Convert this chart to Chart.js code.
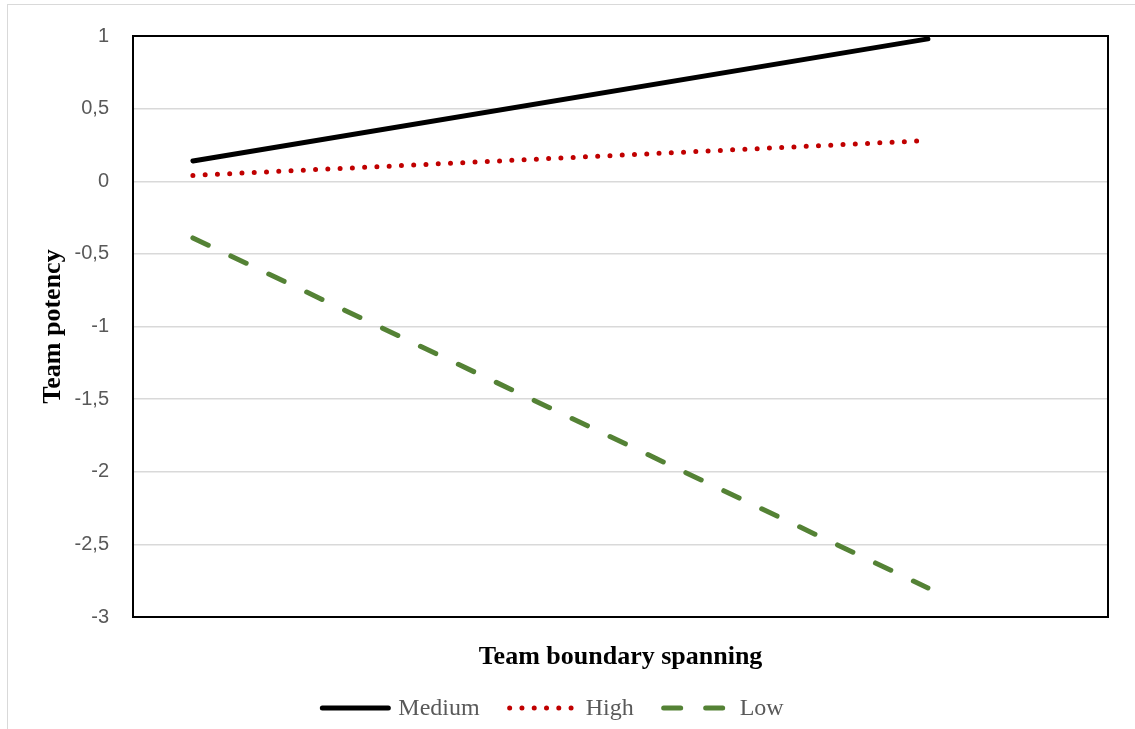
<!DOCTYPE html>
<html>
<head>
<meta charset="utf-8">
<script src="https://cdn.jsdelivr.net/npm/chart.js@4.4.1/dist/chart.umd.min.js"></script>
<style>
    body { margin: 0; background: #fff; }
    .wrap { position: relative; width: 1135px; height: 729px; overflow: hidden; }
    .frame { position: absolute; left: 7px; top: 4px; width: 1160px; height: 760px; border: 1.5px solid #d9d9d9; }
    canvas { position: absolute; left: 0; top: 0; }
</style>
</head>
<body>
<div class="wrap">
    <div class="frame"></div>
    <canvas id="chart" width="1135" height="729"></canvas>
</div>
<script>
// boundary spanning at -1 SD / +1 SD
const boundaryX = [-1, 1];
const mediumVals = [0.14, 0.98];
const highVals = [0.04, 0.28];
const lowVals = [-0.39, -2.8];
const yMin = -3;
const yMax = 1;
const yStep = 0.5;

function toPoints(vals) {
    return vals.map((v, i) => ({ x: boundaryX[i], y: v }));
}

// black box round the plot area
const plotBorder = {
    id: 'plotBorder',
    afterDraw(chart) {
        const { ctx, chartArea } = chart;
        ctx.save();
        ctx.strokeStyle = '#000';
        ctx.lineWidth = 2;
        ctx.strokeRect(chartArea.left, chartArea.top, chartArea.right - chartArea.left, chartArea.bottom - chartArea.top);
        ctx.restore();
    }
};

// legend drawn by hand so the spacing matches the original
const lineLegend = {
    id: 'lineLegend',
    afterDraw(chart) {
        const ctx = chart.ctx;
        const sampleW = 66;
        const textGap = 10;
        const itemGap = 30;
        const y = 708;
        ctx.save();
        ctx.font = '24px "Liberation Serif"';
        const items = chart.data.datasets.map(ds => ({ ds, w: ctx.measureText(ds.label).width }));
        let total = 0;
        items.forEach((it, i) => {
            total += sampleW + textGap + it.w + (i < items.length - 1 ? itemGap : 0);
        });
        let x = 553 - total / 2;
        items.forEach(it => {
            ctx.beginPath();
            ctx.strokeStyle = it.ds.borderColor;
            ctx.lineWidth = it.ds.borderWidth;
            ctx.lineCap = it.ds.borderCapStyle;
            ctx.setLineDash(it.ds.borderDash || []);
            ctx.moveTo(x, y);
            ctx.lineTo(x + sampleW, y);
            ctx.stroke();
            ctx.setLineDash([]);
            ctx.fillStyle = '#595959';
            ctx.textBaseline = 'middle';
            ctx.fillText(it.ds.label, x + sampleW + textGap, y + 1);
            x += sampleW + textGap + it.w + itemGap;
        });
        ctx.restore();
    }
};

const ctx = document.getElementById('chart').getContext('2d');

new Chart(ctx, {
    type: 'line',
    data: {
        datasets: [
            {
                label: 'Medium',
                data: toPoints(mediumVals),
                borderColor: '#000000',
                borderWidth: 5,
                borderCapStyle: 'round',
                pointRadius: 0
            },
            {
                label: 'High',
                data: toPoints(highVals),
                borderColor: '#c00000',
                borderWidth: 5,
                borderCapStyle: 'round',
                borderDash: [0, 12.28],
                pointRadius: 0
            },
            {
                label: 'Low',
                data: toPoints(lowVals),
                borderColor: '#548235',
                borderWidth: 5,
                borderCapStyle: 'round',
                borderDash: [17, 25],
                pointRadius: 0
            }
        ]
    },
    options: {
        responsive: false,
        animation: false,
        layout: {
            padding: { left: 0, top: 36, right: 27, bottom: 54 }
        },
        plugins: {
            legend: { display: false },
            tooltip: { enabled: false }
        },
        scales: {
            x: {
                type: 'linear',
                min: -1.163,
                max: 1.49,
                grid: { display: false },
                border: { display: false },
                ticks: { display: false },
                title: {
                    display: true,
                    text: 'Team boundary spanning',
                    color: '#000',
                    font: { family: '"Liberation Serif"', size: 26, weight: 'bold' },
                    padding: { top: 24, bottom: 2 }
                },
                afterFit(scale) { scale.height = 58; }
            },
            y: {
                min: yMin,
                max: yMax,
                grid: { color: '#d9d9d9', lineWidth: 1.5, drawTicks: false },
                border: { display: false },
                ticks: {
                    stepSize: yStep,
                    padding: 24,
                    color: '#595959',
                    font: { family: '"Liberation Sans"', size: 20 },
                    callback: v => String(v).replace('.', ',')
                },
                title: {
                    display: true,
                    text: 'Team potency',
                    color: '#000',
                    font: { family: '"Liberation Serif"', size: 26, weight: 'bold' },
                    padding: { top: 38, bottom: 6 }
                },
                afterFit(scale) { scale.width = 133; }
            }
        }
    },
    plugins: [plotBorder, lineLegend]
});
</script>
</body>
</html>
